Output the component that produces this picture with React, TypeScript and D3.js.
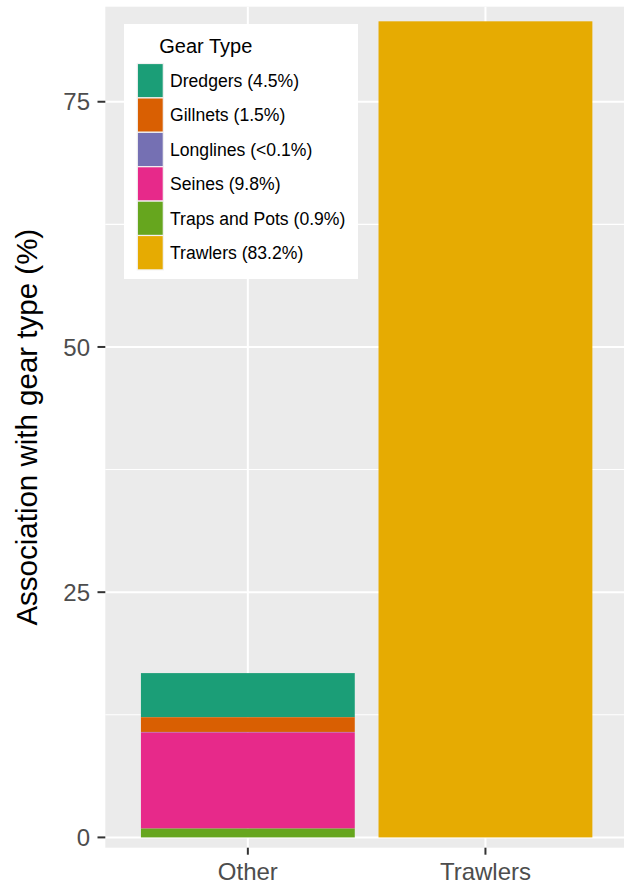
import React from "react";
import * as d3 from "d3";

const categories = ["Other", "Trawlers"];
const gearTypes = ["Dredgers", "Gillnets", "Longlines", "Seines", "Traps and Pots", "Trawlers"];
const legendLabels = [
  "Dredgers (4.5%)",
  "Gillnets (1.5%)",
  "Longlines (<0.1%)",
  "Seines (9.8%)",
  "Traps and Pots (0.9%)",
  "Trawlers (83.2%)",
];
const otherValues = [4.5, 1.5, 0.05, 9.8, 0.9, 0];
const trawlerValues = [0, 0, 0, 0, 0, 83.2];
const colors = ["#1b9e77", "#d95f02", "#7570b3", "#e7298a", "#66a61e", "#e6ab02"];
const yTicks = [0, 25, 50, 75];
const yMinor = [12.5, 37.5, 62.5];

const W = 624;
const H = 884;
const panel = { left: 105.3, right: 628, top: 6.7, bottom: 847.7 };
const FONT = "'Liberation Sans', Arial, sans-serif";

export default function App() {
  const rows = categories.map((c, i) => {
    const r: any = { cat: c };
    gearTypes.forEach((g, j) => {
      r[g] = i === 0 ? otherValues[j] : trawlerValues[j];
    });
    return r;
  });
  const stack = d3.stack<any>().keys(gearTypes).order(d3.stackOrderReverse);
  const series = stack(rows);

  const x = d3
    .scaleBand<string>()
    .domain(categories)
    .range([panel.left, panel.right])
    .paddingInner(0.1)
    .paddingOuter(0.15);
  const y = d3.scaleLinear().domain([-1.05, 84.69]).range([panel.bottom, panel.top]);
  const color = d3.scaleOrdinal<string, string>().domain(gearTypes).range(colors);

  const legend = { x: 124, y: 24, w: 234, h: 255 };
  const keyX = 137.3;
  const keyW = 26;
  const keyY0 = 63.5;
  const keyStep = 34.4;

  return (
    <svg
      width={W}
      height={H}
      style={{ position: "absolute", left: 0, top: 0, background: "#fff" }}
      fontFamily={FONT}
    >
      <rect x={0} y={0} width={W} height={H} fill="#fff" />
      <rect
        x={panel.left}
        y={panel.top}
        width={panel.right - panel.left}
        height={panel.bottom - panel.top}
        fill="#ebebeb"
      />
      {yMinor.map((t) => (
        <line key={"m" + t} x1={panel.left} x2={panel.right} y1={y(t)} y2={y(t)} stroke="#fff" strokeWidth={1.1} />
      ))}
      {yTicks.map((t) => (
        <line key={"g" + t} x1={panel.left} x2={panel.right} y1={y(t)} y2={y(t)} stroke="#fff" strokeWidth={2} />
      ))}
      {categories.map((c) => {
        const cx = (x(c) as number) + x.bandwidth() / 2;
        return <line key={"v" + c} x1={cx} x2={cx} y1={panel.top} y2={panel.bottom} stroke="#fff" strokeWidth={2} />;
      })}
      {series.map((s) => (
        <g key={s.key} fill={color(s.key)}>
          {s.map((d, i) => {
            const h = y(d[0]) - y(d[1]);
            if (h <= 0) return null;
            return (
              <rect
                key={i}
                x={x(categories[i]) as number}
                width={x.bandwidth()}
                y={y(d[1])}
                height={h}
              />
            );
          })}
        </g>
      ))}
      {/* y axis */}
      {yTicks.map((t) => (
        <g key={"yt" + t}>
          <line x1={97.5} x2={panel.left} y1={y(t)} y2={y(t)} stroke="#333" strokeWidth={2} />
          <text x={90} y={y(t)} dy="0.36em" textAnchor="end" fontSize={24} fill="#4d4d4d">
            {t}
          </text>
        </g>
      ))}
      {/* x axis */}
      {categories.map((c) => {
        const cx = (x(c) as number) + x.bandwidth() / 2;
        return (
          <g key={"xt" + c}>
            <line x1={cx} x2={cx} y1={panel.bottom} y2={panel.bottom + 7} stroke="#333" strokeWidth={2} />
            <text x={cx} y={880} textAnchor="middle" fontSize={24} fill="#4d4d4d">
              {c}
            </text>
          </g>
        );
      })}
      <text
        transform={`translate(37,${(panel.top + panel.bottom) / 2}) rotate(-90)`}
        textAnchor="middle"
        fontSize={29.5}
        fill="#000"
      >
        Association with gear type (%)
      </text>
      {/* legend */}
      <rect x={legend.x} y={legend.y} width={legend.w} height={legend.h} fill="#fff" />
      <text x={159.3} y={53.3} fontSize={20} fill="#000">
        Gear Type
      </text>
      {gearTypes.map((g, i) => {
        const ky = keyY0 + i * keyStep;
        return (
          <g key={"lg" + g}>
            <rect x={keyX} y={ky} width={keyW} height={keyStep} fill={color(g)} stroke="#f2f2f2" strokeWidth={1.2} />
            <text x={170} y={ky + keyStep / 2} dy="0.36em" fontSize={17.6} fill="#000">
              {legendLabels[i]}
            </text>
          </g>
        );
      })}
    </svg>
  );
}
